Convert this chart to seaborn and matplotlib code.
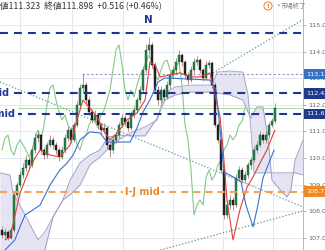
import numpy as np
import matplotlib
matplotlib.use("Agg")
import matplotlib.pyplot as plt
import matplotlib.transforms as mtransforms
import seaborn as sns

# ---------------- data ----------------
opens = [107.30, 107.11, 107.22, 107.00, 107.29, 108.61, 108.98, 109.36, 109.62, 109.92,
         109.74, 110.30, 110.75, 110.86, 110.30, 110.11, 110.49, 110.68, 110.49, 110.30,
         110.04, 110.30, 110.75, 111.05, 110.68, 111.24, 111.99, 112.63, 112.74, 112.18,
         111.73, 111.43, 111.62, 111.24, 111.05, 111.13, 110.49, 110.30, 110.68, 110.86,
         111.24, 111.50, 111.35, 111.13, 111.62, 111.80, 112.18, 112.56, 113.31, 114.06,
         114.25, 113.50, 112.56, 112.18, 112.56, 112.29, 112.74, 113.12, 113.31, 113.61,
         113.87, 113.61, 113.12, 112.93, 113.31, 113.61, 113.68, 113.31, 113.01, 113.50,
         113.57, 112.74, 111.24, 110.68, 109.55, 107.86, 108.23, 108.42, 108.23, 109.25,
         109.55, 109.17, 109.36, 109.74, 109.92, 110.30, 110.49, 110.86, 110.68, 110.86,
         111.24, 111.38]
highs = [107.45, 107.35, 107.30, 107.40, 108.75, 109.10, 109.50, 109.80, 110.10, 110.05,
         110.45, 110.95, 111.05, 110.95, 110.40, 110.60, 110.85, 110.80, 110.60, 110.40,
         110.45, 110.90, 111.20, 111.15, 111.35, 112.15, 112.80, 113.20, 112.85, 112.30,
         111.85, 111.80, 111.70, 111.35, 111.30, 111.20, 110.60, 110.80, 111.00, 111.35,
         111.65, 111.60, 111.45, 111.75, 111.95, 112.30, 112.70, 113.45, 114.30, 114.55,
         114.35, 113.60, 112.70, 112.70, 112.65, 112.90, 113.25, 113.45, 113.75, 114.06,
         113.95, 113.70, 113.25, 113.45, 113.75, 113.85, 113.75, 113.40, 113.65, 113.70,
         113.65, 112.85, 111.35, 110.80, 109.65, 108.40, 108.60, 108.55, 109.40, 109.70,
         109.65, 109.50, 109.85, 110.05, 110.45, 110.65, 111.00, 110.95, 111.00, 111.35,
         111.50, 112.05]
lows = [106.98, 107.00, 106.90, 106.95, 107.20, 108.50, 108.90, 109.25, 109.50, 109.60,
        109.65, 110.20, 110.60, 110.15, 109.95, 110.00, 110.40, 110.35, 110.15, 109.90,
        109.95, 110.20, 110.65, 110.55, 110.60, 111.15, 111.90, 112.45, 112.05, 111.60,
        111.30, 111.35, 111.10, 110.90, 110.95, 110.35, 110.04, 110.20, 110.55, 110.75,
        111.15, 111.20, 111.00, 111.05, 111.50, 111.70, 112.05, 112.45, 113.20, 113.90,
        113.40, 112.45, 112.00, 112.05, 112.15, 112.20, 112.60, 113.00, 113.20, 113.50,
        113.45, 113.00, 112.80, 112.85, 113.20, 113.50, 113.20, 112.90, 112.95, 113.40,
        112.65, 111.15, 110.55, 109.45, 107.70, 107.75, 108.10, 108.05, 108.15, 109.15,
        109.05, 109.05, 109.25, 109.60, 109.85, 110.20, 110.40, 110.55, 110.55, 110.75,
        111.15, 111.32]
closes = [107.11, 107.22, 107.00, 107.29, 108.61, 108.98, 109.36, 109.62, 109.92, 109.74,
          110.30, 110.75, 110.86, 110.30, 110.11, 110.49, 110.68, 110.49, 110.30, 110.04,
          110.30, 110.75, 111.05, 110.68, 111.24, 111.99, 112.63, 112.74, 112.18, 111.73,
          111.43, 111.62, 111.24, 111.05, 111.13, 110.49, 110.30, 110.68, 110.86, 111.24,
          111.50, 111.35, 111.13, 111.62, 111.80, 112.18, 112.56, 113.31, 114.06, 114.25,
          113.50, 112.56, 112.18, 112.56, 112.29, 112.74, 113.12, 113.31, 113.61, 113.87,
          113.61, 113.12, 112.93, 113.31, 113.61, 113.68, 113.31, 113.01, 113.50, 113.57,
          112.74, 111.24, 110.68, 109.55, 107.86, 108.23, 108.42, 108.23, 109.25, 109.55,
          109.17, 109.36, 109.74, 109.92, 110.30, 110.49, 110.86, 110.68, 110.86, 111.24,
          111.38, 111.898]

tenkan_idx = [1, 2.7, 6, 9.3, 11, 12.7, 16, 19.3, 22.7, 25, 27, 29.3, 31.7, 33.7, 36,
              38.7, 41.7, 45, 47.7, 49.3, 51, 52.7, 56, 59.3, 62.7, 66, 69.3, 71, 72.7,
              73.7, 75, 77, 79.3, 81.7, 83.7, 86, 88.3, 90, 91]
tenkan_val = [106.92, 107.03, 108.68, 109.62, 110.00, 110.30, 110.11, 110.04, 110.49, 111.43,
              112.18, 111.88, 111.54, 111.05, 110.68, 110.98, 111.43, 111.69, 112.18, 113.61,
              113.50, 113.05, 113.12, 113.20, 113.05, 113.05, 113.20, 112.37, 111.54, 110.30,
              108.42, 106.92, 108.05, 108.91, 109.29, 109.81, 110.30, 110.79, 111.05]

kijun_idx = [1, 4.3, 6, 7.7, 9.3, 12.7, 16, 19.3, 21.7, 23.7, 26, 29.3, 32.7, 35, 42.7,
             45, 47, 49.3, 52, 54.3, 69.3, 71.3, 72.7, 74, 77.7, 79.7, 81.3, 83.7, 85.3,
             87, 88.7, 90.7]
kijun_val = [106.54, 106.92, 107.41, 107.86, 107.97, 108.23, 108.98, 109.55, 109.81, 110.11,
             110.68, 110.98, 110.94, 110.60, 110.60, 111.13, 111.73, 112.18, 112.86, 113.01,
             112.93, 112.56, 111.05, 109.47, 109.25, 109.10, 108.23, 107.41, 108.23, 109.25,
             109.74, 110.30]

chikou_shift = 10

cloud_idx = [-0.7, 2.7, 3.7, 7.7, 12, 14.3, 17, 20.3, 22.7, 26, 29.3, 32.7, 35.3, 39.3,
             42.7, 47.7, 51.7, 54.3, 57.7, 62.7, 70, 71.7, 76, 80.3, 82, 83, 84, 85, 87,
             88.7, 90, 92.7, 95, 96.3, 97.7, 100.4]
span_a = [109.44, 109.36, 108.68, 107.86, 106.92, 107.22, 107.78, 108.42, 108.61, 108.98,
          109.74, 110.04, 110.34, 110.71, 110.94, 111.17, 111.43, 112.44, 112.67, 112.74,
          112.74, 113.23, 113.27, 113.23, 112.37, 111.05, 109.44, 109.44, 109.44, 109.44,
          109.44, 109.44, 109.44, 109.44, 109.44, 109.36]
span_b = [105.98, 105.98, 105.98, 105.98, 105.98, 106.54, 107.78, 108.42, 109.17, 109.81,
          110.11, 110.30, 110.79, 110.86, 110.83, 110.83, 111.50, 112.18, 112.37, 112.48,
          112.48, 112.44, 112.37, 112.18, 111.73, 111.50, 111.73, 111.92, 111.92, 110.68,
          109.17, 108.80, 108.53, 108.80, 109.92, 110.68]

level_n = 114.70
level_mids = [112.432, 111.655]
mid_labels = ["E-F mid", "G-H mid"]
level_ij = 108.736
level_dotted = 113.157
dotted_start = 26.7
last_price = 111.898

trend_teal_1 = ([-0.67, 100.33], [112.86, 108.16])
trend_teal_2 = ([70.33, 100.33], [113.20, 115.20])
trend_green = ([49.33, 100.33], [106.43, 108.01])

ytick_vals = [107, 108, 109, 110, 111, 112, 113, 114, 115]
ytick_labels = ["107.000", "108.000", "109.000", "110.000", "111.000",
                "112.000", "113.000", "114.000", "115.000"]
xgrid_idx = [6, 23.3, 40.3, 57, 73.7, 90.3]

header = "安値111.323  終値111.898  +0.516 (+0.46%)"

# ---------------- figure ----------------
sns.set_theme(style="white")
plt.rcParams['font.family'] = ['DejaVu Sans', 'Noto Sans CJK JP']

W, H = 325, 250
fig = plt.figure(figsize=(W / 100, H / 100), dpi=100)
fig.patch.set_facecolor("white")
ax = fig.add_axes([0, 0, 303 / W, 1])
ax.set_facecolor("white")
ax.set_xlim(-0.667, 100.333)
ax.set_ylim(106.54, 115.94)

# grid
ax.set_xticks(xgrid_idx)
ax.set_xticklabels([])
ax.set_yticks(ytick_vals)
ax.set_yticklabels(ytick_labels)
ax.grid(True, color="#e6e8ef", lw=0.7, zorder=0)
ax.tick_params(axis="x", length=0)

# cloud
ca = np.array(span_a)
cb = np.array(span_b)
ax.fill_between(cloud_idx, ca, cb, color="#e2e2f2", alpha=0.9, lw=0, zorder=1)
ax.plot(cloud_idx, ca, color="#a6a6c8", lw=0.7, zorder=1.5)
ax.plot(cloud_idx, cb, color="#9e9ec2", lw=0.7, zorder=1.5)

# trend lines
ax.plot(*trend_teal_1, color="#4f9e9a", lw=0.9, ls=(0, (1, 1.6)), zorder=2)
ax.plot(*trend_teal_2, color="#4f9e9a", lw=0.9, ls=(0, (1, 1.6)), zorder=2)
ax.plot(*trend_green, color="#5d9a64", lw=0.9, ls=(0, (1, 1.6)), zorder=2)

# current price line
ax.axhline(last_price, color="#a8dca8", lw=0.7, zorder=1.6)
# dotted grey level
ax.hlines(level_dotted, dotted_start, 100.333, color="#9a9ab8", lw=0.8,
          ls=(0, (2, 2)), zorder=2)

# chikou span (close shifted back)
idx = np.arange(len(closes))
sns.lineplot(x=idx[:-chikou_shift], y=np.array(closes)[chikou_shift:], ax=ax,
             color="#86c986", lw=0.8, zorder=2.5)

# candles
o = np.array(opens); c = np.array(closes)
up = c >= o
ax.vlines(idx, lows, highs, color="#b97a7a", lw=0.6, zorder=3)
body_b = np.minimum(o, c)
body_h = np.maximum(np.abs(c - o), 0.03)
ax.bar(idx[up], body_h[up], bottom=body_b[up], width=0.72, color="#1f8a4c",
       edgecolor="#0f4a28", linewidth=0.3, zorder=3.2)
ax.bar(idx[~up], body_h[~up], bottom=body_b[~up], width=0.72, color="#2b2424",
       edgecolor="#111111", linewidth=0.3, zorder=3.2)

# tenkan / kijun
sns.lineplot(x=tenkan_idx, y=tenkan_val, ax=ax, color="#e0403c", lw=0.8, zorder=4)
sns.lineplot(x=kijun_idx, y=kijun_val, ax=ax, color="#3d6fd1", lw=0.8, zorder=4)

# level lines
navy = "#1f3690"
ax.axhline(level_n, color=navy, lw=1.5, ls=(0, (3.8, 2.9)), zorder=5)
for lv in level_mids:
    ax.axhline(lv, color=navy, lw=1.5, ls=(0, (3.8, 2.9)), zorder=5)
ax.axhline(level_ij, color="#f2a35a", lw=1.5, ls=(0, (3.4, 2.4)), zorder=5)

# labels on chart
ax.text(48.7, 115.19, "N", color=navy, fontsize=7.5, fontweight="bold",
        ha="center", va="center", zorder=6)
for lv, lab, xe in zip(level_mids, mid_labels, [2.4, 4.4]):
    ax.text(xe, lv, lab, color=navy, fontsize=7, fontweight="bold", ha="right",
            va="center", zorder=6,
            bbox=dict(boxstyle="square,pad=0.25", fc="white", ec="none"))
ax.text(46.7, level_ij, "I-J mid", color="#ec8a2e", fontsize=7, fontweight="bold",
        ha="center", va="center", zorder=6,
        bbox=dict(boxstyle="square,pad=0.2", fc="white", ec="none"))

# axes / ticks
for s in ["top", "left", "bottom"]:
    ax.spines[s].set_visible(False)
ax.spines["right"].set_color("#b8b8b8")
ax.spines["right"].set_linewidth(0.7)
ax.yaxis.tick_right()
ax.tick_params(axis="y", length=2, width=0.5, color="#999999", labelsize=4.6,
               labelcolor="#666666", pad=1.5)

# highlighted price tags
trans = mtransforms.blended_transform_factory(ax.transAxes, ax.transData)
tags = [(level_dotted, "113.157", "#3b6fc2"),
        (level_mids[0], "112.432", "#1f3a8a"),
        (level_mids[1], "111.655", "#1f3a8a"),
        (level_ij, "108.736", "#f08a24")]
for lv, txt, col in tags:
    ax.text(1.012, lv, txt, transform=trans, color="white", fontsize=4.6,
            ha="left", va="center", zorder=10, clip_on=False,
            bbox=dict(boxstyle="square,pad=0.45", fc=col, ec="none"))

# header
fig.text(-9 / W, 1 - 6.5 / H, header, fontsize=6.3, color="#333333",
         ha="left", va="center", family=["Noto Sans CJK JP", "DejaVu Sans"])
fig.text(268 / W, 1 - 6 / H, "!", fontsize=4.5, color="#f07a2a", ha="center",
         va="center", fontweight="bold",
         bbox=dict(boxstyle="circle,pad=0.25", fc="white", ec="#f07a2a", lw=0.7))
fig.text(276 / W, 1 - 6 / H, "•", fontsize=4.5, color="#888888", ha="left", va="center")
fig.text(281 / W, 1 - 6 / H, "市場終了", fontsize=4.6, color="#888888",
         ha="left", va="center", family=["Noto Sans CJK JP", "DejaVu Sans"])

fig.savefig("out.png", dpi=100)
